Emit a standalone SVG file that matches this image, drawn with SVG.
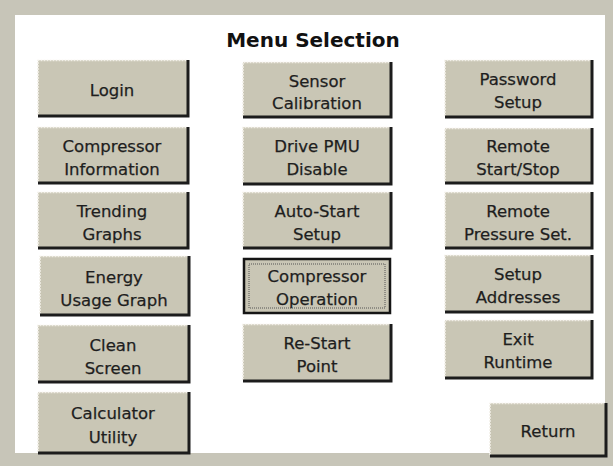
<svg xmlns="http://www.w3.org/2000/svg" width="613" height="466" viewBox="0 0 613 466">
<defs>
<style>
.face{fill:#c9c6b5}
.hi{fill:none;stroke:#f2efe8;stroke-width:1.5;stroke-dasharray:2 1}
.sh{fill:none;stroke:#1c1c1c;stroke-width:3}
.t{font-family:"DejaVu Sans",Verdana,sans-serif;font-size:16.5px;fill:#1e1e1e;stroke:#1e1e1e;stroke-width:0.25;text-anchor:middle}
.title{font-family:"DejaVu Sans",Verdana,sans-serif;font-size:20px;font-weight:bold;fill:#111;text-anchor:middle}
</style>
</defs>
<rect x="0" y="0" width="613" height="466" fill="#c7c5b8"/>
<rect x="15" y="15" width="590" height="438" fill="#ffffff"/>
<text class="title" x="313" y="47">Menu Selection</text>

<g id="login"><rect class="face" x="38" y="60" width="150" height="56"/><path class="hi" d="M38,115 V60.5 H187"/><path class="sh" d="M38,116 H188 V60"/><text class="t" x="112" y="96">Login</text></g>
<g id="compressor-information"><rect class="face" x="38" y="127" width="150" height="56"/><path class="hi" d="M38,182 V127.5 H187"/><path class="sh" d="M38,183 H188 V127"/><text class="t" x="112" y="152">Compressor</text><text class="t" x="112" y="175">Information</text></g>
<g id="trending-graphs"><rect class="face" x="38" y="192" width="150" height="56"/><path class="hi" d="M38,247 V192.5 H187"/><path class="sh" d="M38,248 H188 V192"/><text class="t" x="112" y="217">Trending</text><text class="t" x="112" y="240">Graphs</text></g>
<g id="energy-usage-graph"><rect class="face" x="40" y="256" width="149" height="59"/><path class="hi" d="M40,314 V256.5 H188"/><path class="sh" d="M40,315 H189 V256"/><text class="t" x="114" y="283">Energy</text><text class="t" x="114" y="306">Usage Graph</text></g>
<g id="clean-screen"><rect class="face" x="38" y="325" width="151" height="57"/><path class="hi" d="M38,381 V325.5 H188"/><path class="sh" d="M38,382 H189 V325"/><text class="t" x="113" y="351">Clean</text><text class="t" x="113" y="374">Screen</text></g>
<g id="calculator-utility"><rect class="face" x="38" y="392" width="151" height="61"/><path class="hi" d="M38,452 V392.5 H188"/><path class="sh" d="M38,453 H189 V392"/><text class="t" x="113" y="419">Calculator</text><text class="t" x="113" y="443">Utility</text></g>

<g id="sensor-calibration"><rect class="face" x="243" y="62" width="148" height="55"/><path class="hi" d="M243,116 V62.5 H390"/><path class="sh" d="M243,117 H391 V62"/><text class="t" x="317" y="87">Sensor</text><text class="t" x="317" y="109">Calibration</text></g>
<g id="drive-pmu-disable"><rect class="face" x="243" y="127" width="148" height="57"/><path class="hi" d="M243,183 V127.5 H390"/><path class="sh" d="M243,184 H391 V127"/><text class="t" x="317" y="152">Drive PMU</text><text class="t" x="317" y="175">Disable</text></g>
<g id="auto-start-setup"><rect class="face" x="243" y="192" width="148" height="56"/><path class="hi" d="M243,247 V192.5 H390"/><path class="sh" d="M243,248 H391 V192"/><text class="t" x="317" y="217">Auto-Start</text><text class="t" x="317" y="240">Setup</text></g>
<g id="compressor-operation"><rect class="face" x="243" y="258" width="148" height="56"/><rect x="244" y="259" width="146" height="54" fill="none" stroke="#151515" stroke-width="2.5"/><rect x="249" y="264" width="136" height="44" fill="none" stroke="#555" stroke-width="1" stroke-dasharray="1 1"/><text class="t" x="317" y="282">Compressor</text><text class="t" x="317" y="305">Operation</text></g>
<g id="re-start-point"><rect class="face" x="243" y="324" width="148" height="57"/><path class="hi" d="M243,380 V324.5 H390"/><path class="sh" d="M243,381 H391 V324"/><text class="t" x="317" y="349">Re-Start</text><text class="t" x="317" y="372">Point</text></g>

<g id="password-setup"><rect class="face" x="445" y="60" width="147" height="57"/><path class="hi" d="M445,116 V60.5 H591"/><path class="sh" d="M445,117 H592 V60"/><text class="t" x="518" y="85">Password</text><text class="t" x="518" y="108">Setup</text></g>
<g id="remote-start-stop"><rect class="face" x="445" y="128" width="147" height="55"/><path class="hi" d="M445,182 V128.5 H591"/><path class="sh" d="M445,183 H592 V128"/><text class="t" x="518" y="152">Remote</text><text class="t" x="518" y="175">Start/Stop</text></g>
<g id="remote-pressure-set"><rect class="face" x="445" y="192" width="147" height="56"/><path class="hi" d="M445,247 V192.5 H591"/><path class="sh" d="M445,248 H592 V192"/><text class="t" x="518" y="217">Remote</text><text class="t" x="518" y="240">Pressure Set.</text></g>
<g id="setup-addresses"><rect class="face" x="445" y="255" width="147" height="57"/><path class="hi" d="M445,311 V255.5 H591"/><path class="sh" d="M445,312 H592 V255"/><text class="t" x="518" y="280">Setup</text><text class="t" x="518" y="303">Addresses</text></g>
<g id="exit-runtime"><rect class="face" x="445" y="320" width="147" height="58"/><path class="hi" d="M445,377 V320.5 H591"/><path class="sh" d="M445,378 H592 V320"/><text class="t" x="518" y="345">Exit</text><text class="t" x="518" y="368">Runtime</text></g>

<g id="return"><rect class="face" x="490" y="403" width="116" height="53"/><path class="hi" d="M490,455 V403.5 H605"/><path class="sh" d="M490,456 H606 V403"/><text class="t" x="548" y="437">Return</text></g>
<g id="connectors"></g>
</svg>
